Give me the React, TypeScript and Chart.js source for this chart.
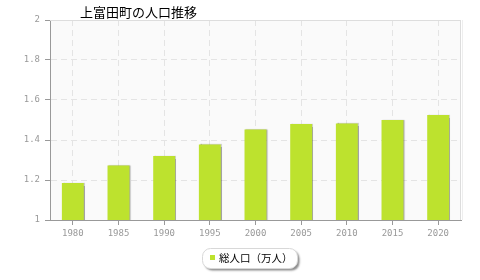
import React, { useEffect, useRef } from 'react';
import { Chart, registerables } from 'chart.js';

Chart.register(...registerables);

const TITLE = '上富田町の人口推移';
const SERIES_LABEL = '総人口（万人）';
const years = ['1980', '1985', '1990', '1995', '2000', '2005', '2010', '2015', '2020'];
const population = [1.185, 1.272, 1.32, 1.378, 1.452, 1.48, 1.483, 1.5, 1.525];
const yTicks = [1, 1.2, 1.4, 1.6, 1.8, 2];

const BAR_COLOR = '#bde22e';
const AXIS_COLOR = '#999999';
const GRID_COLOR = '#e4e4e4';
const TICK_FONT = { family: '"DejaVu Sans Mono", monospace', size: 9 };
const CJK_FONT = '"Noto Sans CJK JP", sans-serif';

const framePlugin = {
  id: 'frame',
  beforeDraw(chart: any) {
    const { ctx, chartArea: a } = chart;
    ctx.save();
    ctx.fillStyle = '#fafafa';
    ctx.fillRect(a.left, a.top, a.right - a.left, a.bottom - a.top);
    ctx.restore();
  },
  beforeDatasetsDraw(chart: any) {
    const { ctx, chartArea: a } = chart;
    ctx.save();
    ctx.lineWidth = 1;
    ctx.strokeStyle = '#dddddd';
    ctx.beginPath();
    ctx.moveTo(a.left, a.top + 0.5);
    ctx.lineTo(a.right, a.top + 0.5);
    ctx.moveTo(a.right - 0.5, a.top);
    ctx.lineTo(a.right - 0.5, a.bottom);
    ctx.stroke();
    ctx.strokeStyle = '#eeeeee';
    ctx.beginPath();
    ctx.moveTo(a.right + 1.5, a.top);
    ctx.lineTo(a.right + 1.5, a.bottom);
    ctx.stroke();
    ctx.restore();
    ctx.save();
    ctx.shadowColor = 'rgba(0,0,0,0.35)';
    ctx.shadowBlur = 1;
    ctx.shadowOffsetX = 1;
    ctx.shadowOffsetY = 0;
  },
  afterDatasetsDraw(chart: any) {
    chart.ctx.restore();
  },
  afterDraw(chart: any) {
    const { ctx } = chart;
    // title
    ctx.save();
    ctx.fillStyle = '#000000';
    ctx.font = `13px ${CJK_FONT}`;
    ctx.textAlign = 'left';
    ctx.textBaseline = 'middle';
    ctx.fillText(TITLE, 80, 12);
    ctx.restore();
    // legend box
    ctx.save();
    ctx.shadowColor = 'rgba(0,0,0,0.45)';
    ctx.shadowBlur = 2;
    ctx.shadowOffsetX = 2;
    ctx.shadowOffsetY = 2;
    ctx.fillStyle = '#ffffff';
    ctx.beginPath();
    ctx.roundRect(202.5, 248.5, 95, 20, 8);
    ctx.fill();
    ctx.restore();
    ctx.save();
    ctx.strokeStyle = '#d8d8d8';
    ctx.lineWidth = 1;
    ctx.beginPath();
    ctx.roundRect(202.5, 248.5, 95, 20, 8);
    ctx.stroke();
    ctx.fillStyle = BAR_COLOR;
    ctx.fillRect(210, 255, 5, 5);
    ctx.fillStyle = '#000000';
    ctx.font = `10.5px ${CJK_FONT}`;
    ctx.textAlign = 'left';
    ctx.textBaseline = 'middle';
    ctx.fillText(SERIES_LABEL, 219, 258);
    ctx.restore();
  },
};

export default function App() {
  const ref = useRef<HTMLCanvasElement | null>(null);

  useEffect(() => {
    if (!ref.current) return;
    const chart = new Chart(ref.current, {
      type: 'bar',
      data: {
        labels: years,
        datasets: [
          {
            label: SERIES_LABEL,
            data: population,
            backgroundColor: BAR_COLOR,
            borderWidth: 0,
            barPercentage: 0.48,
            categoryPercentage: 1,
          },
        ],
      },
      options: {
        responsive: false,
        animation: false,
        layout: { padding: { left: 0, top: 20, right: 19, bottom: 32 } },
        plugins: {
          legend: { display: false },
          title: { display: false },
          tooltip: { enabled: false },
        },
        scales: {
          x: {
            grid: {
              offset: false,
              color: GRID_COLOR,
              tickColor: AXIS_COLOR,
              tickLength: 5,
              drawOnChartArea: true,
            },
            border: { color: AXIS_COLOR, width: 1, dash: [6, 4] },
            ticks: { color: AXIS_COLOR, font: TICK_FONT, padding: 3, maxRotation: 0 },
            afterFit: (s: any) => {
              s.height = 28;
            },
          },
          y: {
            min: 1,
            max: 2,
            grid: {
              color: GRID_COLOR,
              tickColor: AXIS_COLOR,
              tickLength: 5,
            },
            border: { color: AXIS_COLOR, width: 1, dash: [6, 4] },
            ticks: {
              color: AXIS_COLOR,
              font: TICK_FONT,
              padding: 5,
              callback: (v: any) => String(v),
            },
            afterBuildTicks: (s: any) => {
              s.ticks = yTicks.map((v) => ({ value: v }));
            },
            afterFit: (s: any) => {
              s.width = 50;
            },
          },
        },
      },
      plugins: [framePlugin],
    });
    return () => chart.destroy();
  }, []);

  return (
    <div style={{ position: 'fixed', left: 0, top: 0, width: 480, height: 280, background: '#ffffff' }}>
      <canvas ref={ref} width={480} height={280} style={{ display: 'block' }} />
    </div>
  );
}
